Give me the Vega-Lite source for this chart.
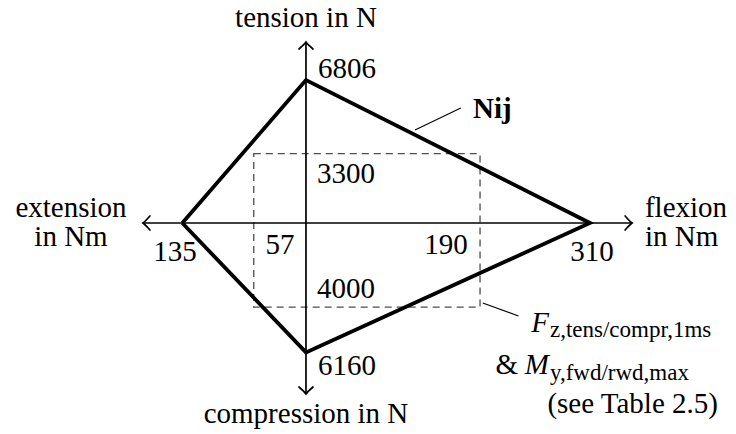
{
  "$schema": "https://vega.github.io/schema/vega-lite/v6.json",
  "width": 736,
  "height": 434,
  "padding": 0,
  "autosize": {"type": "none"},
  "background": "white",
  "config": {"view": {"stroke": null}, "text": {"font": "'Liberation Serif', 'Times New Roman', serif"}},
  "datasets": {
    "kite": [
      {"x": -135, "y": 0, "o": 0},
      {"x": 0, "y": 6806, "o": 1},
      {"x": 310, "y": 0, "o": 2},
      {"x": 0, "y": -6160, "o": 3},
      {"x": -135, "y": 0, "o": 4}
    ],
    "box": [{"x": -57, "x2": 190, "y": -4000, "y2": 3300}],
    "axes": [
      {"x": -178, "x2": 356, "y": 0, "y2": 0},
      {"x": 0, "x2": 0, "y": 8615, "y2": -8139}
    ],
    "tips": [
      {"x": 356, "y": 0, "dir": "right"},
      {"x": 0, "y": -8139, "dir": "down"},
      {"x": -178, "y": 0, "dir": "left"},
      {"x": 0, "y": 8615, "dir": "up"}
    ],
    "leaders": [
      {"x": 119, "x2": 169, "y": 4426, "y2": 5474},
      {"x": 193, "x2": 232, "y": -3808, "y2": -4426}
    ],
    "centered": [
      {"x": 0, "y": 9329, "t": "tension in N"},
      {"x": 0, "y": -9519, "t": "compression in N"},
      {"x": -256.5, "y": 286, "t": "extension"},
      {"x": -256.5, "y": -1095, "t": "in Nm"},
      {"x": -143, "y": -1809, "t": "135"},
      {"x": -28.4, "y": -1475, "t": "57"},
      {"x": 152.8, "y": -1475, "t": "190"},
      {"x": 312.2, "y": -1809, "t": "310"}
    ],
    "leftText": [
      {"x": 13.1, "y": 6901, "t": "6806"},
      {"x": 12.0, "y": 1904, "t": "3300"},
      {"x": 12.0, "y": -3570, "t": "4000"},
      {"x": 13.1, "y": -7235, "t": "6160"},
      {"x": 370, "y": 286, "t": "flexion"},
      {"x": 370, "y": -1095, "t": "in Nm"}
    ],
    "bold": [{"x": 182.3, "y": 4998, "t": "Nij"}],
    "mathMain": [
      {"x": 265.2, "y": -5188, "t": "F"},
      {"x": 265.2, "y": -7190, "t": "M"}
    ],
    "mathSub": [
      {"x": 265.2, "y": -5426, "t": "z,tens/compr,1ms"},
      {"x": 265.2, "y": -7475, "t": "y,fwd/rwd,max"}
    ],
    "rightText": [
      {"x": 231.4, "y": -7190, "t": "&"},
      {"x": 449.7, "y": -9040, "t": "(see Table 2.5)"}
    ]
  },
  "encoding": {
    "x": {"field": "x", "type": "quantitative", "scale": {"domain": [-334.0, 469.4], "nice": false, "zero": false}, "axis": null},
    "y": {"field": "y", "type": "quantitative", "scale": {"domain": [-10043, 10614], "nice": false, "zero": false}, "axis": null}
  },
  "layer": [
    {
      "data": {"name": "box"},
      "mark": {"type": "rect", "fillOpacity": 0, "stroke": "#4d4d4d", "strokeWidth": 1.3, "strokeDash": [7, 5]},
      "encoding": {"x2": {"field": "x2"}, "y2": {"field": "y2"}}
    },
    {
      "data": {"name": "axes"},
      "mark": {"type": "rule", "color": "black", "strokeWidth": 1.7},
      "encoding": {"x2": {"field": "x2"}, "y2": {"field": "y2"}}
    },
    {
      "data": {"name": "tips"},
      "transform": [{"filter": "datum.dir === 'right'"}],
      "mark": {"type": "point", "filled": false, "stroke": "black", "strokeWidth": 1.7, "opacity": 1, "size": 196, "strokeCap": "round", "angle": 0,
        "shape": "M -1 -1 Q -0.3 -0.2 0 0 Q -0.3 0.2 -1 1"}
    },
    {
      "data": {"name": "tips"},
      "transform": [{"filter": "datum.dir === 'down'"}],
      "mark": {"type": "point", "filled": false, "stroke": "black", "strokeWidth": 1.7, "opacity": 1, "size": 196, "strokeCap": "round", "angle": 90,
        "shape": "M -1 -1 Q -0.3 -0.2 0 0 Q -0.3 0.2 -1 1"}
    },
    {
      "data": {"name": "tips"},
      "transform": [{"filter": "datum.dir === 'left'"}],
      "mark": {"type": "point", "filled": false, "stroke": "black", "strokeWidth": 1.7, "opacity": 1, "size": 196, "strokeCap": "round", "angle": 180,
        "shape": "M -1 -1 Q -0.3 -0.2 0 0 Q -0.3 0.2 -1 1"}
    },
    {
      "data": {"name": "tips"},
      "transform": [{"filter": "datum.dir === 'up'"}],
      "mark": {"type": "point", "filled": false, "stroke": "black", "strokeWidth": 1.7, "opacity": 1, "size": 196, "strokeCap": "round", "angle": 270,
        "shape": "M -1 -1 Q -0.3 -0.2 0 0 Q -0.3 0.2 -1 1"}
    },
    {
      "data": {"name": "leaders"},
      "mark": {"type": "rule", "color": "black", "strokeWidth": 1.1},
      "encoding": {"x2": {"field": "x2"}, "y2": {"field": "y2"}}
    },
    {
      "data": {"name": "kite"},
      "mark": {"type": "line", "color": "black", "strokeWidth": 3.8, "strokeJoin": "miter", "strokeMiterLimit": 20},
      "encoding": {"order": {"field": "o", "type": "quantitative"}}
    },
    {
      "data": {"name": "centered"},
      "mark": {"type": "text", "fontSize": 29, "align": "center", "baseline": "alphabetic", "color": "black"},
      "encoding": {"text": {"field": "t"}}
    },
    {
      "data": {"name": "leftText"},
      "mark": {"type": "text", "fontSize": 29, "align": "left", "baseline": "alphabetic", "color": "black"},
      "encoding": {"text": {"field": "t"}}
    },
    {
      "data": {"name": "bold"},
      "mark": {"type": "text", "fontSize": 29, "fontWeight": "bold", "align": "left", "baseline": "alphabetic", "color": "black"},
      "encoding": {"text": {"field": "t"}}
    },
    {
      "data": {"name": "mathMain"},
      "mark": {"type": "text", "fontSize": 29, "fontStyle": "italic", "align": "right", "baseline": "alphabetic", "color": "black"},
      "encoding": {"text": {"field": "t"}}
    },
    {
      "data": {"name": "mathSub"},
      "mark": {"type": "text", "fontSize": 23, "align": "left", "baseline": "alphabetic", "dx": 1, "color": "black"},
      "encoding": {"text": {"field": "t"}}
    },
    {
      "data": {"name": "rightText"},
      "mark": {"type": "text", "fontSize": 29, "align": "right", "baseline": "alphabetic", "color": "black"},
      "encoding": {"text": {"field": "t"}}
    }
  ]
}
